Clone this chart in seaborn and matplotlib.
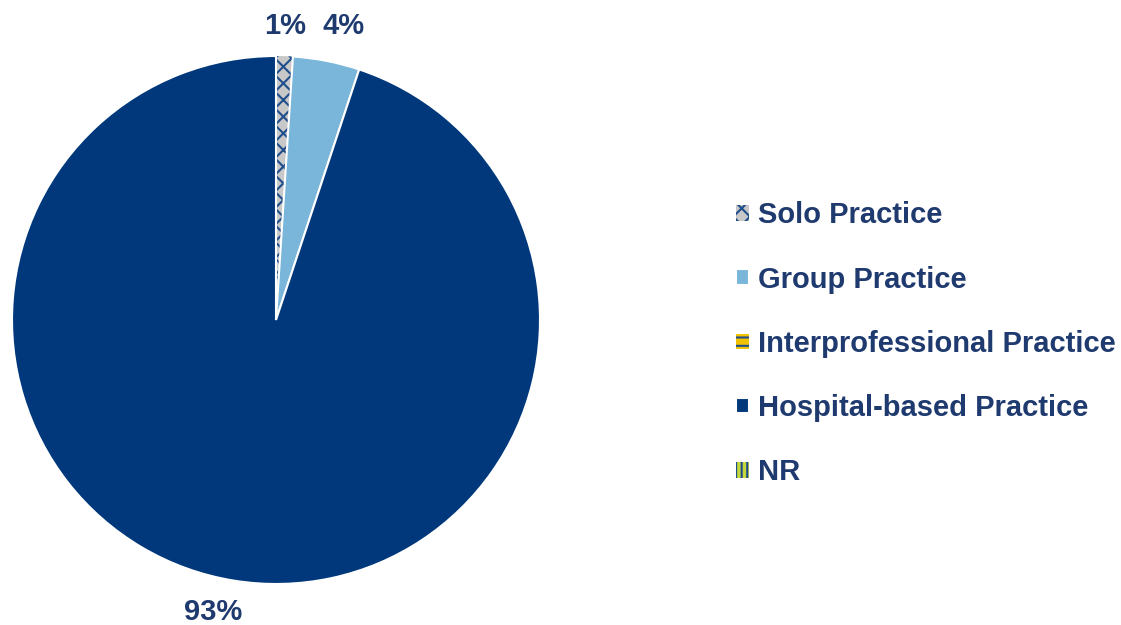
import numpy as np
import matplotlib
matplotlib.use("Agg")
import matplotlib.pyplot as plt
import seaborn as sns

# Practice setting shares (%)
categorias = ['Solo Practice', 'Group Practice', 'Interprofessional Practice',
              'Hospital-based Practice', 'NR']
valores = [1, 4, 0, 93, 0]
rotulos = ['1%', '4%', '', '93%', '']

cores = ['#C8C8C8', '#7AB6DA', '#F2C200', '#00387B', '#C5D93A']
hachuras = ['xx', None, '--', None, '|||']
azul = '#1F3A6E'

sns.set_theme(style='white')
plt.rcParams['font.family'] = ['Liberation Sans', 'DejaVu Sans']
plt.rcParams['hatch.linewidth'] = 1.5

fig = plt.figure(figsize=(11.21, 6.25), dpi=100)
ax = fig.add_axes([12 / 1121, 41 / 625, 528 / 1121, 528 / 625])

fatias, textos = ax.pie(valores, labels=rotulos, colors=cores, startangle=90,
                        counterclock=False, labeldistance=1.12,
                        wedgeprops=dict(edgecolor='white', linewidth=1.5),
                        textprops=dict(color=azul, fontsize=21, fontweight='bold'))
for t in textos:
    t.set_ha('center')
    t.set_va('center')
# nudge labels to where the original chart puts them
textos[0].set_position((0.035, 1.115))
textos[1].set_position((0.255, 1.115))
textos[3].set_position((-0.24, -1.105))
for fatia, h in zip(fatias, hachuras):
    if h:
        fatia.set_hatch(h)
        fatia.set_edgecolor('#1F4E8C')
        fatia.set_linewidth(0)
ax.set_xlim(-1, 1)
ax.set_ylim(-1, 1)
ax.set_aspect('equal')
ax.axis('off')

fig.legend(fatias, categorias, loc='center left', bbox_to_anchor=(710 / 1121, 0.45),
           frameon=False, handlelength=0.45, handleheight=0.45, handletextpad=0.3,
           labelspacing=1.24, prop=dict(size=21, weight='bold'), labelcolor=azul)

fig.savefig('out.png', dpi=100)
